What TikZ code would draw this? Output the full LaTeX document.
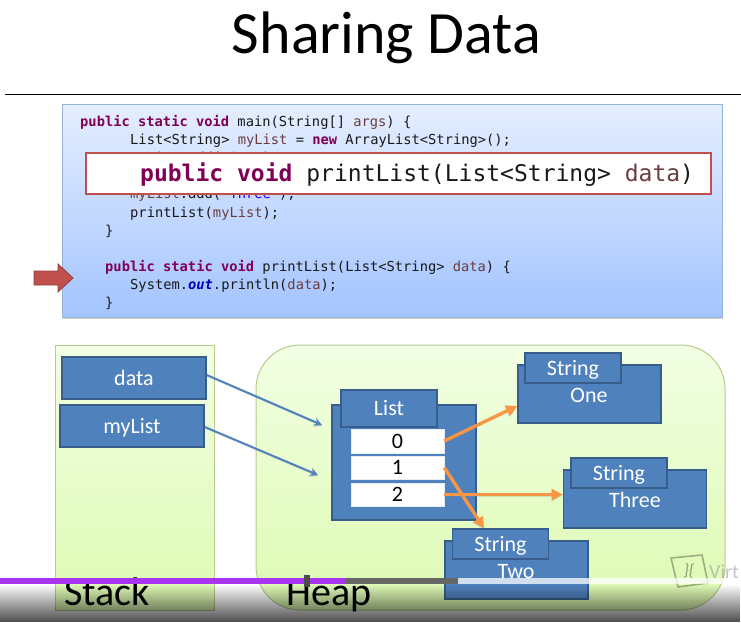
\documentclass[tikz,border=0pt]{standalone}
\usepackage{fontspec}
\setmainfont{Carlito}
\setmonofont{DejaVu Sans Mono}
\usetikzlibrary{arrows.meta,shadows,fadings}
\definecolor{kw}{HTML}{7F0055}
\definecolor{var}{HTML}{6A3E3E}
\definecolor{strc}{HTML}{2A00FF}
\definecolor{outc}{HTML}{0000C0}
\definecolor{blueF}{HTML}{4F81BD}
\definecolor{blueD}{HTML}{385D8A}
\definecolor{redF}{HTML}{C0504D}
\definecolor{orangeA}{HTML}{F79646}
\definecolor{panelT}{HTML}{E5EEFF}
\definecolor{panelB}{HTML}{A3C4FF}
\definecolor{memT}{HTML}{F2FFE4}
\definecolor{memB}{HTML}{DDFAB2}
\definecolor{memL}{HTML}{B7CB8C}
\definecolor{barP}{HTML}{A833F0}
\tikzfading[name=barfade, top color=transparent!100, bottom color=transparent!30]
\newcommand{\kw}[1]{\textcolor{kw}{\bfseries #1}}
\newcommand{\vr}[1]{\textcolor{var}{#1}}
\tikzset{
  x=1pt,y=-1pt,
  codeline/.style={anchor=base west,inner sep=0pt,font=\ttfamily\fontsize{13.75}{14}\selectfont,text=black!90},
  bluebox/.style={draw=blueD,line width=1.6pt,fill=blueF,text=white,inner sep=0pt,text height=18pt,text depth=4pt,font=\fontsize{22}{24}\selectfont},
  objbody/.style={bluebox,minimum width=143pt,minimum height=58pt},
  objtab/.style={bluebox,minimum width=96pt,minimum height=30pt},
  cellbox/.style={fill=white,draw=white!85!blueF,line width=.5pt,text=black,minimum width=93pt,minimum height=24pt,inner sep=0pt,text height=18pt,text depth=4pt,font=\fontsize{22}{24}\selectfont},
  refarrow/.style={draw=blueF,line width=2pt,-{Stealth[length=8pt,width=8pt]},
    preaction={draw=black!45,opacity=.35,transform canvas={yshift=-1.2pt}}},
  elemarrow/.style={draw=orangeA,line width=3.4pt,-{Triangle[length=11pt,width=11pt]},
    preaction={draw=black!45,opacity=.25,transform canvas={yshift=-1.2pt}}},
  memarea/.style={draw=memL,line width=1pt,top color=memT,bottom color=memB},
  biglabel/.style={inner sep=0pt,font=\fontsize{40}{42}\selectfont,text=black},
}
\begin{document}
\begin{tikzpicture}
\useasboundingbox (0,0) rectangle (741,622);
\fill[white] (0,0) rectangle (741,622);
\node[inner sep=0pt,font=\fontsize{60}{62}\selectfont] (title) at (386.5,38) {Sharing Data};
\coordinate (ruleL) at (5,94); \coordinate (ruleR) at (741,94);
\draw[black,line width=.8pt] (ruleL) -- (ruleR);

% code panel
\node[draw=blueF!60!white,line width=1pt,top color=panelT,bottom color=panelB,drop shadow={shadow xshift=1pt,shadow yshift=-1.5pt,opacity=.35},minimum width=660pt,minimum height=213pt,inner sep=0pt] (code) at (392,210.5) {};
\node[codeline] (l1) at (80,126) {\kw{public static void} main(String[] \vr{args}) \{};
\node[codeline] (l2) at (130,144) {List<String> \vr{myList} = \kw{new} ArrayList<String>();};
\node[codeline] (l3) at (130,162) {\vr{myList}.add(\textcolor{strc}{"One"});};
\node[codeline] (l5) at (130,198) {\vr{myList}.add(\textcolor{strc}{"Three"});};
\node[codeline] (l6) at (130,217) {printList(\vr{myList});};
\node[codeline] (l7) at (105,235) {\}};
\node[codeline] (l8) at (105,271) {\kw{public static void} printList(List<String> \vr{data}) \{};
\node[codeline] (l9) at (130,289) {System.\textcolor{outc}{\bfseries\itshape out}.println(\vr{data});};
\node[codeline] (l10) at (105,307) {\}};
\node[draw=redF,line width=2pt,fill=white,minimum width=625pt,minimum height=41pt,inner sep=0pt] (sig) at (398,173) {};
\node[anchor=base west,inner sep=0pt,font=\ttfamily\fontsize{23}{24}\selectfont,text=black!90] (sigtext) at (140,181) {\kw{public void} printList(List<String> \vr{data})};
\path[draw=redF!75!black,line width=.8pt,fill=redF] (34,271) -- (58,271) -- (58,264) -- (73,278) -- (58,292) -- (58,285) -- (34,285) -- cycle;

% memory areas
\node[memarea,minimum width=159pt,minimum height=265pt,inner sep=0pt] (stack) at (134.5,477.5) {};
\node[memarea,rounded corners=44pt,minimum width=469pt,minimum height=265pt,inner sep=0pt] (heap) at (490.5,477.5) {};

% stack entries
\node[bluebox,minimum width=144pt,minimum height=42pt] (data) at (134,378) {data};
\node[bluebox,minimum width=144pt,minimum height=42pt] (mylist) at (132,426) {myList};

% list object
\node[bluebox,minimum width=144pt,minimum height=115pt] (list) at (404,462.5) {};
\node[bluebox,minimum width=96pt,minimum height=37pt] (listtab) at (389,408.5) {List};
\node[cellbox] (c0) at (397.5,441) {0};
\node[cellbox,minimum height=23pt] (c1) at (397.5,467.5) {1};
\node[cellbox,minimum height=23pt] (c2) at (397.5,494.5) {2};

% strings
\node[objbody] (one) at (589.5,394) {};
\node[objtab] (onetab) at (573,368) {String};
\node[bluebox,fill=none,draw=none] (onetext) at (589,395) {One};
\node[objbody] (three) at (635,499) {};
\node[objtab] (threetab) at (619,473) {String};
\node[bluebox,fill=none,draw=none] (threetext) at (635,500) {Three};
\node[objbody] (two) at (516.5,570) {};
\node[objtab] (twotab) at (500.5,544) {String};
\node[bluebox,fill=none,draw=none] (twotext) at (516,571) {Two};

% connectors
\coordinate (t1) at (322,425); \coordinate (t2) at (318,475);
\draw[refarrow] (data.east |- 0,375) -- (t1);
\draw[refarrow] (mylist.east |- 0,427) -- (t2);
\draw[elemarrow] (c0.east) -- (one.west |- 0,406);
\draw[elemarrow] (c1.east) -- (twotab.north -| 484,0);
\draw[elemarrow] (c2.east) -- (three.west |- c2.east);

\node[biglabel,anchor=base west] (stacklabel) at (64,605) {Stack};
\node[biglabel,anchor=base west] (heaplabel) at (286,605) {Heap};

% watermark
\draw[black!45!memL,opacity=.55,line width=1.6pt,line join=round] (671,558) -- (702,555) -- (708,583) -- (678,587) -- cycle;
\node[inner sep=0pt,rotate=-8,opacity=.55,text=black!60!memL,font=\fontsize{17}{18}\selectfont] (wmlogo) at (689,571) {\}\{};
\node[anchor=base west,inner sep=0pt,opacity=.45,text=black!50,font=\fontsize{20}{22}\selectfont] (wmtext) at (709,578) {Virt};

% video player overlay
\fill[black,path fading=barfade] (0,584) rectangle (741,622);
\fill[white,opacity=.75] (458,578) rectangle (741,584);
\fill[black!60] (345,578) rectangle (458,584);
\fill[barP] (0,578) rectangle (345,584);
\fill[black!70] (304,575) rectangle (310,587);
\end{tikzpicture}
\end{document}
